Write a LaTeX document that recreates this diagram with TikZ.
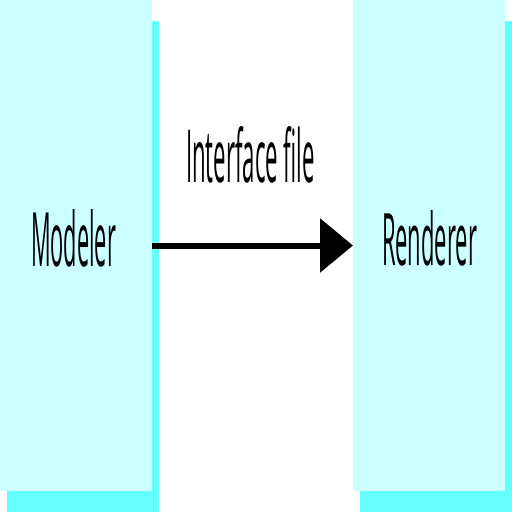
\documentclass[tikz,border=0pt]{standalone}
\usepackage{fontspec}
\setmainfont{Open Sans}
\usetikzlibrary{arrows.meta,shadows}
\definecolor{boxc}{RGB}{204,255,255}
\definecolor{shadc}{RGB}{102,255,255}
\begin{document}
\begin{tikzpicture}[x=1pt,y=-1pt,
 panel/.style={draw=none,fill=boxc,minimum width=152pt,minimum height=491pt,anchor=north west,inner sep=0pt,outer sep=0pt,
   drop shadow={shadow xshift=7pt,shadow yshift=-20.5pt,fill=shadc,opacity=1}},
 lbl/.style={inner sep=0pt,outer sep=0pt,anchor=base west},
 flow/.style={line width=6pt,-{Triangle[length=33pt,width=53pt]}}]
\useasboundingbox (0,0) rectangle (512,512);
\node[panel] (mod) at (0,0) {};
\node[panel] (ren) at (353,0) {};
\node[lbl] (modt) at (31,266) {\resizebox{85pt}{57pt}{Modeler}};
\node[lbl] (rent) at (382,265) {\resizebox{95pt}{55pt}{Renderer}};
\node[lbl] (ift) at (186,182) {\resizebox{129pt}{56pt}{Interface file}};
\draw[flow] (mod.east) -- (ren.west);
\end{tikzpicture}
\end{document}
